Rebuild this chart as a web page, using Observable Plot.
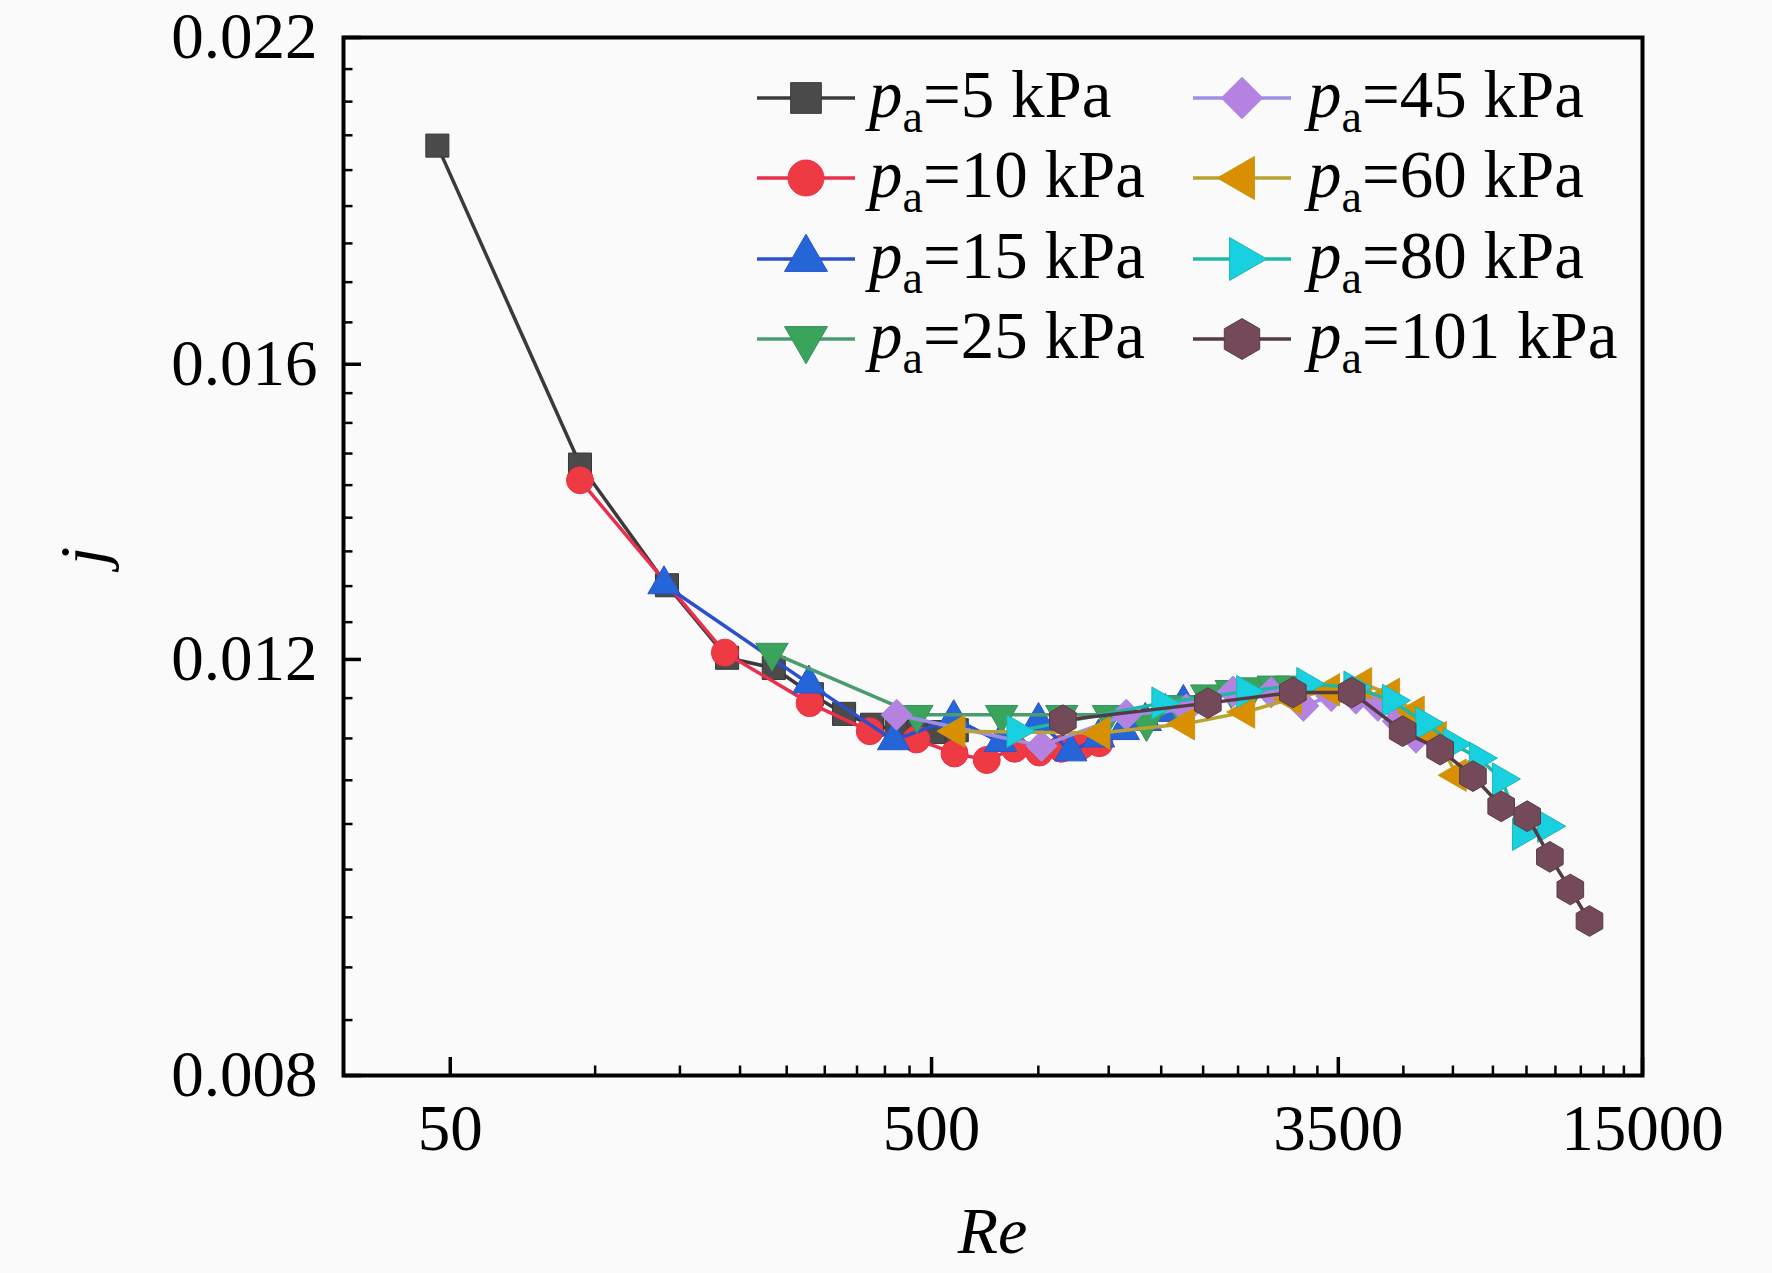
<!DOCTYPE html>
<html><head><meta charset="utf-8">
<script src="https://cdn.jsdelivr.net/npm/d3@7"></script>
<script src="https://cdn.jsdelivr.net/npm/@observablehq/plot@0.6"></script>
<style>html,body{margin:0;padding:0;background:#fafafa;}</style>
</head><body><div id="chart"></div>
<script>
// ---- data ----
const seriesLabels = ["5 kPa","10 kPa","15 kPa","25 kPa","45 kPa","60 kPa","80 kPa","101 kPa"];
const re5   = [47, 93, 141, 188, 235, 282, 329, 376, 423, 470, 517, 564];
const j5    = [0.0198, 0.01451, 0.0129, 0.01202, 0.0119, 0.0116, 0.01138, 0.01126, 0.0112, 0.01118, 0.01118, 0.0112];
const re10  = [93, 186, 279, 372, 465, 558, 651, 744, 837, 930, 1023, 1116];
const j10   = [0.01429, 0.01208, 0.0115, 0.01119, 0.0111, 0.01095, 0.01088, 0.011, 0.01096, 0.011, 0.01103, 0.01106];
const re15  = [139, 278, 417, 556, 695, 834, 973, 1112, 1251, 1390, 1529, 1668];
const j15   = [0.01291, 0.01172, 0.01109, 0.01133, 0.01107, 0.0113, 0.01097, 0.01112, 0.0112, 0.0113, 0.0114, 0.0115];
const re25  = [233, 466, 699, 932, 1165, 1398, 1631, 1864, 2097, 2330, 2563, 2796];
const j25   = [0.01208, 0.01137, 0.01137, 0.01137, 0.01137, 0.01128, 0.01148, 0.0116, 0.01165, 0.01168, 0.0117, 0.0117];
const re45  = [423, 846, 1269, 1692, 2115, 2538, 2961, 3384, 3807, 4230, 4653, 5076];
const j45   = [0.01137, 0.01103, 0.01137, 0.01143, 0.01163, 0.01162, 0.01147, 0.01158, 0.01155, 0.01147, 0.0113, 0.01112];
const re60  = [561, 1122, 1683, 2244, 2805, 3366, 3927, 4488, 5049, 5610, 6171, 6732];
const j60   = [0.01119, 0.01117, 0.01127, 0.0114, 0.01155, 0.01165, 0.01172, 0.0116, 0.0114, 0.01112, 0.01072, 0.0108];
const re80  = [750, 1500, 2250, 3000, 3760, 4520, 5300, 6060, 6850, 7650, 8420, 9500];
const j80   = [0.01119, 0.0115, 0.01163, 0.01172, 0.01168, 0.01153, 0.01128, 0.01105, 0.0109, 0.01068, 0.01012, 0.0102];
const re101 = [937, 1875, 2816, 3732, 4762, 5697, 6665, 7630, 8640, 9630, 10620, 11640];
const j101  = [0.01131, 0.0115, 0.01162, 0.01162, 0.01119, 0.01099, 0.01071, 0.0104, 0.0103, 0.0099, 0.00959, 0.0093];

const xTickValues = [50, 500, 3500, 15000];
const xMinorValues = [100, 150, 200, 250, 300, 350, 400, 450,
  833.3, 1166.7, 1500, 1833.3, 2166.7, 2500, 2833.3, 3166.7,
  4777.8, 6055.6, 7333.3, 8611.1, 9888.9, 11166.7, 12444.4, 13722.2];
const yTickValues = [0.008, 0.012, 0.016, 0.022];
const yMinorValues = [0.008444, 0.008889, 0.009333, 0.009778, 0.010222, 0.010667, 0.011111, 0.011556,
  0.012444, 0.012889, 0.013333, 0.013778, 0.014222, 0.014667, 0.015111, 0.015556,
  0.016667, 0.017333, 0.018, 0.018667, 0.019333, 0.02, 0.020667, 0.021333];

// ---- symbols ----
const sqrt3 = Math.sqrt(3);
function triangleSym(deg) {
  const a = deg * Math.PI / 180, c = Math.cos(a), s = Math.sin(a);
  return {draw(ctx, size) {
    const y = -Math.sqrt(size / (sqrt3 * 3));
    const pts = [[0, 2 * y], [-sqrt3 * y, -y], [sqrt3 * y, -y]];
    pts.forEach(([px, py], i) => {
      const X = px * c - py * s, Y = px * s + py * c;
      if (i) ctx.lineTo(X, Y); else ctx.moveTo(X, Y);
    });
    ctx.closePath();
  }};
}
const hexagonSym = {draw(ctx, size) {
  const rx = Math.sqrt(size / (2 + sqrt3)), ry = rx * 2 / sqrt3, hy = ry / 2;
  ctx.moveTo(0, ry); ctx.lineTo(rx, hy); ctx.lineTo(rx, -hy); ctx.lineTo(0, -ry);
  ctx.lineTo(-rx, -hy); ctx.lineTo(-rx, hy); ctx.closePath();
}};

const series = [
  {re: re5,   j: j5,   sym: d3.symbolSquare,   r: 13,   fill: "#4b4b4b", stroke: "#363636", line: "#3a3a3a"},
  {re: re10,  j: j10,  sym: d3.symbolCircle,   r: 13.5, fill: "#ee3a42", stroke: "#e8304a", line: "#ea2f4c"},
  {re: re15,  j: j15,  sym: triangleSym(0),    r: 12,   fill: "#2466d8", stroke: "#2a52cc", line: "#2a4fcf"},
  {re: re25,  j: j25,  sym: triangleSym(180),  r: 12,   fill: "#3ba45c", stroke: "#3a8f5c", line: "#4a9c70"},
  {re: re45,  j: j45,  sym: d3.symbolDiamond2, r: 14,   fill: "#b682e2", stroke: "#a08ae4", line: "#9d8fe6"},
  {re: re60,  j: j60,  sym: triangleSym(-90),  r: 12,   fill: "#d89000", stroke: "#c49a18", line: "#b9a230"},
  {re: re80,  j: j80,  sym: triangleSym(90),   r: 12,   fill: "#18d0e0", stroke: "#1cb9b0", line: "#1fb8a6"},
  {re: re101, j: j101, sym: hexagonSym,        r: 14.5, fill: "#744a5b", stroke: "#5a3a48", line: "#553a45"}
];

const W = 1772, H = 1273, mL = 343, mR = 130, mT = 37, mB = 198;
const plotW = W - mL - mR, plotH = H - mT - mB;

const marks = [];
series.forEach((s, i) => {
  const data = s.re.map((x, k) => ({Re: x, j: s.j[k], name: seriesLabels[i]}));
  marks.push(Plot.line(data, {x: "Re", y: "j", stroke: s.line, strokeWidth: 3.5}));
  marks.push(Plot.dot(data, {x: "Re", y: "j", symbol: s.sym, r: s.r, fill: s.fill, stroke: s.stroke, strokeWidth: 1}));
});

const chart = Plot.plot({
  width: W, height: H,
  marginLeft: mL, marginRight: mR, marginTop: mT, marginBottom: mB,
  style: {fontFamily: "'Liberation Serif', 'Times New Roman', serif", background: "#fafafa", color: "black", overflow: "visible"},
  x: {type: "log", domain: [30, 15000]},
  y: {type: "log", domain: [0.008, 0.022]},
  marks: [
    Plot.tickX(xMinorValues, {insetTop: plotH - 9.5, stroke: "black", strokeWidth: 2.5}),
    Plot.tickX(xTickValues, {insetTop: plotH - 18, stroke: "black", strokeWidth: 3.5}),
    Plot.tickY(yMinorValues, {insetRight: plotW - 9.5, stroke: "black", strokeWidth: 2.5}),
    Plot.tickY(yTickValues, {insetRight: plotW - 18, stroke: "black", strokeWidth: 3.5}),
    Plot.axisX(xTickValues, {tickSize: 0, tickPadding: 28, fontSize: 65, tickFormat: d => String(d), label: null, fill: "black"}),
    Plot.axisY(yTickValues, {tickSize: 0, tickPadding: 26, fontSize: 65, tickFormat: d => d.toFixed(3), label: null, fill: "black"}),
    ...marks,
    Plot.frame({stroke: "black", strokeWidth: 4})
  ]
});
document.getElementById("chart").appendChild(chart);

// ---- legend and axis titles ----
const svg = d3.select(chart);
const font = "'Liberation Serif', 'Times New Roman', serif";
svg.append("text").attr("x", (mL + W - mR) / 2).attr("y", 1253)
  .attr("text-anchor", "middle").attr("font-family", font).attr("font-size", 66)
  .attr("font-style", "italic").attr("fill", "black").text("Re");
svg.append("text").attr("transform", "translate(105,556) rotate(-90)")
  .attr("text-anchor", "middle").attr("font-family", font).attr("font-size", 66)
  .attr("font-style", "italic").attr("fill", "black").text("j");

const leg = svg.append("g");
const colX = [{line0: 757, line1: 855, mark: 806, text: 869}, {line0: 1193, line1: 1291, mark: 1242, text: 1308}];
const baselines = [117, 197, 278, 358];
series.forEach((s, i) => {
  const c = colX[Math.floor(i / 4)], b = baselines[i % 4], ly = b - 19;
  leg.append("line").attr("x1", c.line0).attr("x2", c.line1).attr("y1", ly).attr("y2", ly)
    .attr("stroke", s.line).attr("stroke-width", 3.5);
  const rr = s.r * 1.33;
  leg.append("path").attr("d", d3.symbol().type(s.sym).size(Math.PI * rr * rr)())
    .attr("transform", `translate(${c.mark},${ly})`).attr("fill", s.fill).attr("stroke", s.stroke).attr("stroke-width", 1);
  const t = leg.append("text").attr("x", c.text).attr("y", b).attr("font-family", font)
    .attr("font-size", 67).attr("fill", "black").attr("text-anchor", "start");
  t.append("tspan").attr("font-style", "italic").text("p");
  t.append("tspan").attr("font-size", 46).attr("dy", 15).text("a");
  t.append("tspan").attr("dy", -15).text("=" + seriesLabels[i]);
});
</script>
</body></html>
